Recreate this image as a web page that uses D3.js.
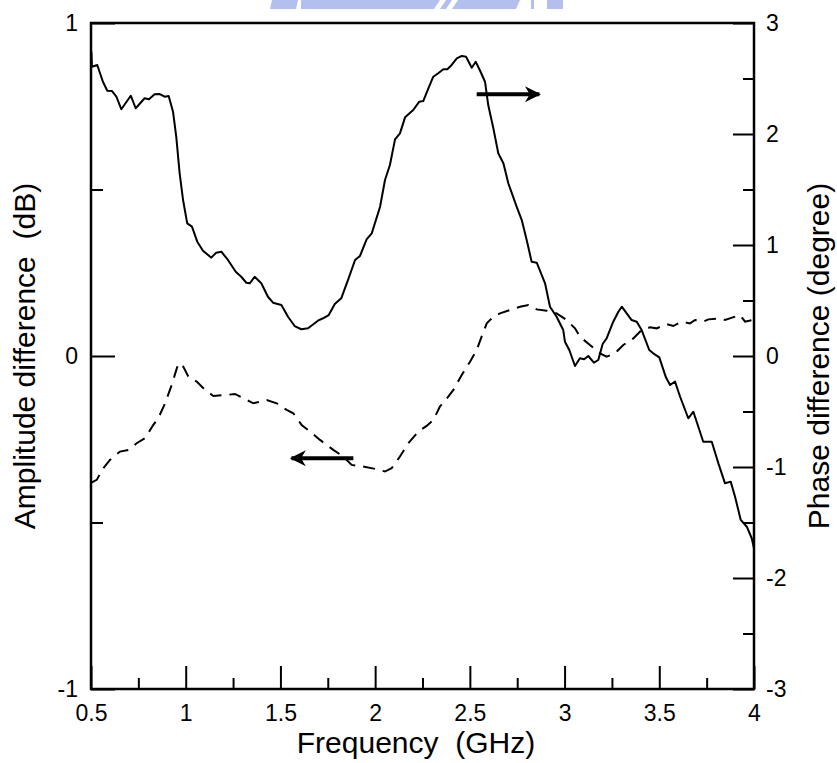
<!DOCTYPE html>
<html>
<head>
<meta charset="utf-8">
<script src="https://cdn.jsdelivr.net/npm/d3@7/dist/d3.min.js"></script>
<style>
  html, body { margin: 0; padding: 0; background: #fff; }
  svg { display: block; }
  text { font-family: "Liberation Sans", Arial, sans-serif; fill: #000; }
</style>
</head>
<body>
<svg id="chart" width="837" height="763"></svg>
<script>
// ---------------- Data ----------------
// Phase difference (degree), solid line, right axis
const phaseFreq = [0.502,0.505,0.533,0.563,0.586,0.611,0.634,0.660,0.710,0.736,0.783,0.806,0.836,0.863,0.889,0.910,0.933,0.950,0.968,0.986,1.008,1.033,1.061,1.091,1.135,1.161,1.188,1.223,1.264,1.293,1.320,1.338,1.364,1.399,1.434,1.461,1.505,1.540,1.575,1.610,1.646,1.698,1.725,1.755,1.787,1.821,1.857,1.894,1.920,1.955,1.982,2.026,2.052,2.078,2.105,2.131,2.158,2.201,2.233,2.254,2.281,2.307,2.333,2.360,2.381,2.404,2.431,2.457,2.480,2.510,2.531,2.554,2.580,2.597,2.624,2.650,2.677,2.703,2.747,2.774,2.800,2.826,2.853,2.897,2.923,2.958,2.993,3.002,3.025,3.055,3.081,3.103,3.125,3.155,3.178,3.201,3.222,3.257,3.284,3.302,3.354,3.381,3.407,3.447,3.468,3.500,3.535,3.557,3.583,3.610,3.653,3.680,3.706,3.732,3.777,3.812,3.847,3.877,3.900,3.930,3.962,3.988,4.000];
const phaseValues = [2.741,2.606,2.622,2.471,2.390,2.387,2.336,2.223,2.345,2.232,2.322,2.313,2.358,2.360,2.336,2.342,2.201,1.976,1.646,1.405,1.195,1.165,1.030,0.949,0.886,0.931,0.940,0.865,0.759,0.714,0.660,0.655,0.714,0.655,0.534,0.480,0.459,0.354,0.270,0.241,0.250,0.318,0.340,0.369,0.468,0.520,0.685,0.865,0.901,1.051,1.105,1.345,1.586,1.721,1.952,2.006,2.150,2.216,2.291,2.297,2.412,2.516,2.547,2.583,2.583,2.622,2.682,2.703,2.696,2.597,2.651,2.570,2.471,2.261,2.051,1.826,1.736,1.556,1.345,1.225,1.045,0.850,0.841,0.655,0.444,0.354,0.234,0.129,0.054,-0.090,-0.021,-0.030,0.000,-0.060,-0.036,0.108,0.159,0.309,0.399,0.444,0.324,0.309,0.234,0.054,0.024,-0.012,-0.192,-0.261,-0.231,-0.367,-0.561,-0.502,-0.637,-0.772,-0.772,-0.967,-1.147,-1.132,-1.268,-1.477,-1.538,-1.642,-1.732];

// Amplitude difference (dB), dashed line, left axis
const ampFreq = [0.500,0.530,0.565,0.600,0.653,0.697,0.741,0.785,0.829,0.855,0.891,0.926,0.961,0.987,1.014,1.058,1.102,1.146,1.216,1.260,1.322,1.357,1.428,1.480,1.533,1.568,1.612,1.656,1.709,1.779,1.832,1.876,1.937,2.008,2.052,2.087,2.131,2.175,2.228,2.272,2.307,2.342,2.386,2.413,2.457,2.501,2.536,2.562,2.589,2.624,2.659,2.712,2.765,2.809,2.853,2.906,2.958,3.011,3.055,3.081,3.134,3.187,3.222,3.266,3.310,3.363,3.407,3.451,3.486,3.539,3.574,3.618,3.662,3.689,3.732,3.759,3.820,3.847,3.926,3.953,3.989];
const ampValues = [-0.381,-0.372,-0.337,-0.312,-0.287,-0.282,-0.262,-0.247,-0.207,-0.187,-0.142,-0.087,-0.022,-0.032,-0.062,-0.077,-0.102,-0.120,-0.117,-0.114,-0.132,-0.142,-0.132,-0.142,-0.162,-0.172,-0.207,-0.227,-0.252,-0.282,-0.302,-0.327,-0.332,-0.340,-0.347,-0.337,-0.302,-0.262,-0.227,-0.210,-0.192,-0.152,-0.122,-0.102,-0.057,-0.017,0.018,0.058,0.098,0.118,0.128,0.138,0.148,0.153,0.140,0.136,0.128,0.108,0.083,0.058,0.033,0.008,-0.002,0.008,0.033,0.053,0.078,0.086,0.083,0.096,0.090,0.103,0.098,0.108,0.103,0.110,0.113,0.108,0.123,0.103,0.108];

// Axis ticks
const xMajorTicks = [0.5, 1, 1.5, 2, 2.5, 3, 3.5, 4];
const xMinorTicks = [0.75, 1.25, 1.75, 2.25, 2.75, 3.25, 3.75];
const leftMajorTicks = [-1, 0, 1];
const leftMinorTicks = [-0.5, 0.5];
const rightMajorTicks = [-3, -2, -1, 0, 1, 2, 3];
const rightMinorTicks = [-2.5, -1.5, -0.5, 0.5, 1.5, 2.5];

// Annotation arrows (data coords): [fromFreq, toFreq, value]
const phaseArrow = [2.536, 2.888, 2.358];   // right axis
const ampArrow = [1.885, 1.537, -0.307];    // left axis

const xTitle = "Frequency\u00a0\u00a0(GHz)";
const leftTitle = "Amplitude difference\u00a0\u00a0(dB)";
const rightTitle = "Phase difference (degree)";

// ---------------- Layout ----------------
const svg = d3.select("#chart");
const L = 91, R = 754, T = 23, B = 689;

const x = d3.scaleLinear().domain([0.5, 4]).range([L, R]);
const yL = d3.scaleLinear().domain([-1, 1]).range([B, T]);
const yR = d3.scaleLinear().domain([-3, 3]).range([B, T]);

const fmt = d => String(d);   // plain hyphen minus, as in the original

// watermark fragment at top (decorative)
const wm = svg.append("g").attr("fill", "#b3c0ee");
wm.append("path").attr("d", "M272,0 L298,0 L296,9 L270,9 Z");
wm.append("path").attr("d", "M301,0 L440,0 L434,9 L301,9 Z");
wm.append("path").attr("d", "M446,0 L452,0 L446,9 L440,9 Z");
wm.append("path").attr("d", "M458,0 L520,0 L516,9 L452,9 Z");
wm.append("path").attr("d", "M531,0 L534,0 L534,9 L531,9 Z");
wm.append("path").attr("d", "M547,0 L563,0 L563,9 L547,9 Z");

// Axes
function styleAxis(g) {
  g.select(".domain").remove();
  g.selectAll(".tick line").attr("stroke", "#000").attr("stroke-width", 2);
  g.selectAll(".tick text").style("font-size", "23px").attr("fill", "#000");
}

// bottom
svg.append("g").attr("transform", `translate(0,${B})`)
  .call(d3.axisBottom(x).tickValues(xMinorTicks).tickSize(-11).tickFormat(""))
  .call(styleAxis);
svg.append("g").attr("transform", `translate(0,${B})`)
  .call(d3.axisBottom(x).tickValues(xMajorTicks).tickSize(-23).tickPadding(16).tickFormat(fmt))
  .call(styleAxis);

// left
svg.append("g").attr("transform", `translate(${L},0)`)
  .call(d3.axisLeft(yL).tickValues(leftMinorTicks).tickSize(-12).tickFormat(""))
  .call(styleAxis);
svg.append("g").attr("transform", `translate(${L},0)`)
  .call(d3.axisLeft(yL).tickValues(leftMajorTicks).tickSize(-24).tickPadding(13).tickFormat(fmt))
  .call(styleAxis);

// right
svg.append("g").attr("transform", `translate(${R},0)`)
  .call(d3.axisRight(yR).tickValues(rightMinorTicks).tickSize(-11).tickFormat(""))
  .call(styleAxis);
svg.append("g").attr("transform", `translate(${R},0)`)
  .call(d3.axisRight(yR).tickValues(rightMajorTicks).tickSize(-21).tickPadding(12).tickFormat(fmt))
  .call(styleAxis);

// frame
svg.append("rect").attr("x", L).attr("y", T).attr("width", R - L).attr("height", B - T)
  .attr("fill", "none").attr("stroke", "#000").attr("stroke-width", 2.5);

// Lines
const phaseData = phaseFreq.map((f, i) => [f, phaseValues[i]]);
const ampData = ampFreq.map((f, i) => [f, ampValues[i]]);

svg.append("path").datum(phaseData)
  .attr("fill", "none").attr("stroke", "#000").attr("stroke-width", 2)
  .attr("stroke-linejoin", "round")
  .attr("d", d3.line().x(d => x(d[0])).y(d => yR(d[1])));

svg.append("path").datum(ampData)
  .attr("fill", "none").attr("stroke", "#000").attr("stroke-width", 2)
  .attr("stroke-dasharray", "12,8")
  .attr("d", d3.line().x(d => x(d[0])).y(d => yL(d[1])));

// Arrows
svg.append("defs").append("marker")
  .attr("id", "ah").attr("viewBox", "0 0 10 10").attr("refX", 9).attr("refY", 5)
  .attr("markerUnits", "userSpaceOnUse").attr("markerWidth", 19).attr("markerHeight", 16)
  .attr("orient", "auto")
  .append("path").attr("d", "M0,0 L10,5 L0,10 L3,5 Z").attr("fill", "#000");

svg.append("line")
  .attr("x1", x(phaseArrow[0])).attr("x2", x(phaseArrow[1]) - 4)
  .attr("y1", yR(phaseArrow[2])).attr("y2", yR(phaseArrow[2]))
  .attr("stroke", "#000").attr("stroke-width", 4).attr("marker-end", "url(#ah)");
svg.append("line")
  .attr("x1", x(ampArrow[0])).attr("x2", x(ampArrow[1]) + 4)
  .attr("y1", yL(ampArrow[2])).attr("y2", yL(ampArrow[2]))
  .attr("stroke", "#000").attr("stroke-width", 4).attr("marker-end", "url(#ah)");

// Titles
svg.append("text").attr("x", 416).attr("y", 753).attr("text-anchor", "middle")
  .style("font-size", "30px").text(xTitle);
svg.append("text").attr("transform", "translate(35,356) rotate(-90)").attr("text-anchor", "middle")
  .style("font-size", "30px").text(leftTitle);
svg.append("text").attr("transform", "translate(829,356) rotate(-90)").attr("text-anchor", "middle")
  .style("font-size", "30px").text(rightTitle);
</script>
</body>
</html>
